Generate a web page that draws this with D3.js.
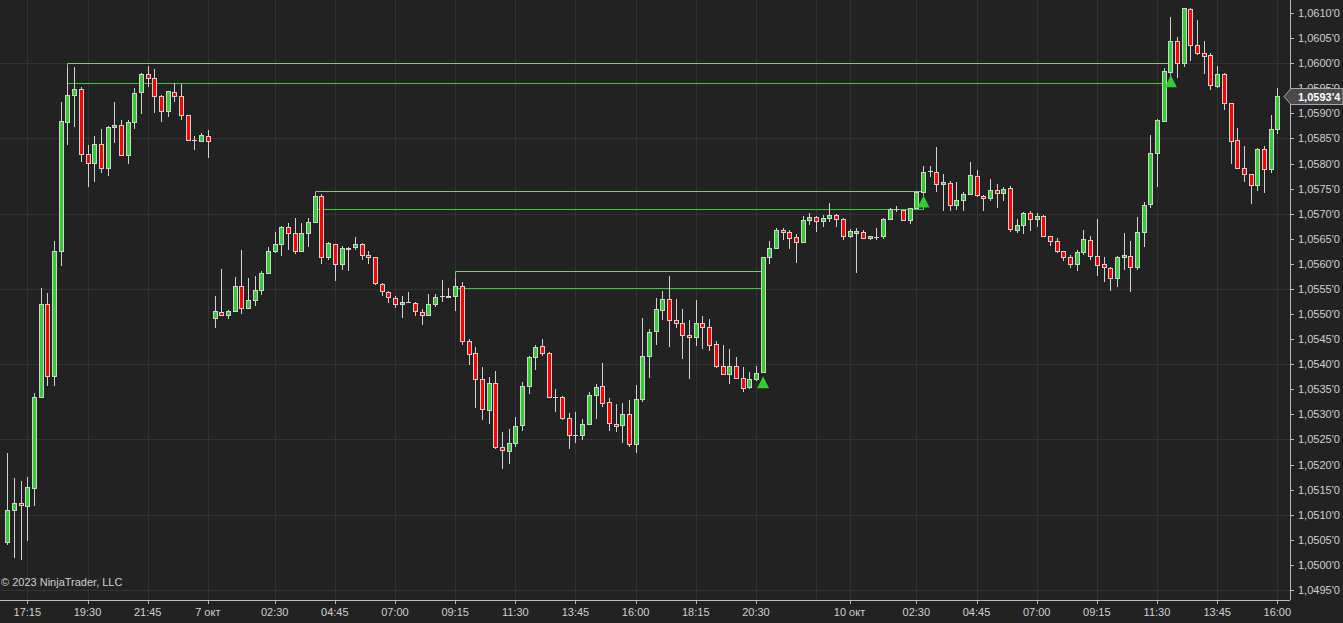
<!DOCTYPE html>
<html>
<head>
<meta charset="utf-8">
<script src="https://cdn.jsdelivr.net/npm/d3@7"></script>
<style>
html,body{margin:0;padding:0;background:#222222;overflow:hidden;}
svg{display:block;}
text{font-family:"Liberation Sans",Arial,sans-serif;}
</style>
</head>
<body>
<svg id="chart" width="1343" height="623"></svg>
<script>
// ---- data (15-minute bars, index-based) ----
const opens = [1.05046,1.05109,1.05123,1.05118,1.05154,1.05334,1.05521,1.05376,1.05625,1.05883,
1.05936,1.05948,1.05818,1.05802,1.05838,1.05792,1.05872,1.05876,1.05816,1.05882,
1.05942,1.05978,1.05970,1.05934,1.05904,1.05942,1.05934,1.05896,1.05846,1.05844,
1.05854,1.05493,1.05505,1.05499,1.05507,1.05555,1.05513,1.05527,1.05547,1.05581,
1.05625,1.05639,1.05673,1.05661,1.05625,1.05661,1.05683,1.05735,1.05613,1.05639,
1.05599,1.05632,1.05633,1.05639,1.05617,1.05613,1.05559,1.05543,1.05531,1.05521,
1.05525,1.05523,1.05505,1.05499,1.05521,1.05535,1.05534,1.05535,1.05555,1.05446,
1.05422,1.05370,1.05308,1.05362,1.05236,1.05228,1.05242,1.05278,1.05356,1.05414,
1.05436,1.05422,1.05334,1.05334,1.05292,1.05259,1.05258,1.05280,1.05338,1.05356,
1.05324,1.05280,1.05278,1.05300,1.05240,1.05330,1.05416,1.05466,1.05509,1.05529,
1.05488,1.05482,1.05458,1.05454,1.05482,1.05474,1.05440,1.05396,1.05380,1.05396,
1.05372,1.05354,1.05370,1.05384,1.05613,1.05631,1.05667,1.05663,1.05653,1.05643,
1.05687,1.05693,1.05685,1.05691,1.05697,1.05689,1.05655,1.05661,1.05663,1.05651,
1.05653,1.05655,1.05689,1.05709,1.05707,1.05687,1.05711,1.05743,1.05786,1.05784,
1.05759,1.05761,1.05717,1.05727,1.05739,1.05775,1.05735,1.05731,1.05747,1.05741,
1.05751,1.05667,1.05677,1.05701,1.05689,1.05695,1.05655,1.05645,1.05625,1.05613,
1.05599,1.05623,1.05647,1.05615,1.05599,1.05591,1.05571,1.05613,1.05615,1.05593,
1.05663,1.05719,1.05820,1.05885,1.05983,1.06044,1.06000,1.06107,1.06036,1.06020,
1.06016,1.05954,1.05978,1.05920,1.05846,1.05792,1.05779,1.05757,1.05828,1.05790,
1.05868];
const highs = [1.05224,1.05173,1.05167,1.05175,1.05343,1.05552,1.05542,1.05646,1.05923,1.05990,
1.05993,1.05953,1.05837,1.05855,1.05869,1.05875,1.05923,1.05886,1.05886,1.05951,
1.05980,1.05994,1.05988,1.05937,1.05945,1.05960,1.05958,1.05897,1.05854,1.05860,
1.05866,1.05535,1.05589,1.05508,1.05573,1.05628,1.05571,1.05575,1.05585,1.05633,
1.05663,1.05675,1.05681,1.05691,1.05681,1.05691,1.05738,1.05739,1.05644,1.05640,
1.05635,1.05634,1.05654,1.05642,1.05626,1.05614,1.05561,1.05545,1.05535,1.05535,
1.05543,1.05525,1.05511,1.05539,1.05539,1.05568,1.05551,1.05570,1.05563,1.05450,
1.05434,1.05394,1.05374,1.05386,1.05264,1.05270,1.05294,1.05364,1.05416,1.05438,
1.05451,1.05424,1.05350,1.05336,1.05302,1.05304,1.05290,1.05344,1.05360,1.05402,
1.05332,1.05320,1.05322,1.05328,1.05358,1.05493,1.05470,1.05531,1.05545,1.05576,
1.05529,1.05511,1.05488,1.05527,1.05497,1.05490,1.05446,1.05438,1.05430,1.05414,
1.05394,1.05384,1.05396,1.05614,1.05646,1.05671,1.05671,1.05667,1.05659,1.05695,
1.05701,1.05695,1.05697,1.05721,1.05699,1.05691,1.05670,1.05671,1.05667,1.05656,
1.05671,1.05691,1.05711,1.05715,1.05708,1.05712,1.05745,1.05795,1.05795,1.05833,
1.05779,1.05765,1.05763,1.05743,1.05804,1.05788,1.05737,1.05769,1.05759,1.05753,
1.05755,1.05689,1.05703,1.05705,1.05701,1.05697,1.05656,1.05651,1.05626,1.05617,
1.05627,1.05667,1.05655,1.05689,1.05613,1.05593,1.05616,1.05661,1.05645,1.05693,
1.05723,1.05857,1.05888,1.05990,1.06092,1.06052,1.06110,1.06109,1.06086,1.06044,
1.06020,1.05994,1.05980,1.05921,1.05870,1.05834,1.05780,1.05830,1.05834,1.05896,
1.05950];
const lows = [1.05040,1.05014,1.05010,1.05048,1.05117,1.05333,1.05357,1.05357,1.05596,1.05837,
1.05873,1.05804,1.05754,1.05764,1.05782,1.05775,1.05841,1.05814,1.05800,1.05869,
1.05898,1.05952,1.05901,1.05883,1.05892,1.05923,1.05887,1.05845,1.05826,1.05843,
1.05812,1.05473,1.05497,1.05490,1.05505,1.05501,1.05511,1.05517,1.05537,1.05580,
1.05622,1.05615,1.05627,1.05619,1.05623,1.05634,1.05682,1.05599,1.05608,1.05566,
1.05588,1.05586,1.05628,1.05607,1.05599,1.05557,1.05535,1.05523,1.05513,1.05493,
1.05523,1.05497,1.05478,1.05497,1.05515,1.05525,1.05531,1.05507,1.05438,1.05398,
1.05313,1.05288,1.05280,1.05232,1.05192,1.05202,1.05236,1.05266,1.05340,1.05388,
1.05416,1.05332,1.05305,1.05288,1.05232,1.05242,1.05248,1.05279,1.05290,1.05314,
1.05266,1.05264,1.05242,1.05236,1.05224,1.05324,1.05372,1.05438,1.05488,1.05435,
1.05473,1.05410,1.05371,1.05436,1.05430,1.05426,1.05392,1.05378,1.05360,1.05370,
1.05344,1.05350,1.05366,1.05382,1.05600,1.05630,1.05648,1.05629,1.05601,1.05641,
1.05677,1.05664,1.05673,1.05683,1.05674,1.05648,1.05651,1.05582,1.05649,1.05648,
1.05648,1.05649,1.05688,1.05703,1.05685,1.05679,1.05710,1.05742,1.05773,1.05743,
1.05706,1.05706,1.05708,1.05706,1.05737,1.05733,1.05705,1.05725,1.05711,1.05725,
1.05664,1.05661,1.05659,1.05665,1.05673,1.05653,1.05635,1.05621,1.05605,1.05592,
1.05585,1.05617,1.05607,1.05575,1.05563,1.05545,1.05553,1.05588,1.05543,1.05588,
1.05633,1.05711,1.05754,1.05883,1.05982,1.05971,1.05993,1.06005,1.06016,1.05978,
1.05946,1.05950,1.05906,1.05800,1.05790,1.05763,1.05719,1.05745,1.05741,1.05782,
1.05858];
const closes = [1.05109,1.05123,1.05119,1.05155,1.05334,1.05521,1.05376,1.05625,1.05884,1.05936,
1.05948,1.05818,1.05802,1.05838,1.05792,1.05872,1.05876,1.05816,1.05882,1.05941,
1.05978,1.05970,1.05934,1.05904,1.05944,1.05934,1.05896,1.05846,1.05846,1.05856,
1.05844,1.05507,1.05499,1.05507,1.05555,1.05513,1.05527,1.05547,1.05581,1.05625,
1.05639,1.05673,1.05661,1.05625,1.05661,1.05683,1.05735,1.05613,1.05641,1.05599,
1.05631,1.05630,1.05639,1.05617,1.05613,1.05561,1.05545,1.05533,1.05521,1.05525,
1.05524,1.05507,1.05499,1.05521,1.05533,1.05535,1.05535,1.05555,1.05446,1.05420,
1.05370,1.05310,1.05362,1.05236,1.05230,1.05242,1.05276,1.05356,1.05414,1.05434,
1.05422,1.05334,1.05334,1.05292,1.05258,1.05259,1.05280,1.05338,1.05354,1.05322,
1.05282,1.05276,1.05300,1.05240,1.05330,1.05416,1.05464,1.05511,1.05529,1.05488,
1.05482,1.05458,1.05454,1.05482,1.05474,1.05438,1.05396,1.05380,1.05396,1.05372,
1.05352,1.05370,1.05382,1.05613,1.05631,1.05667,1.05663,1.05651,1.05643,1.05687,
1.05693,1.05685,1.05691,1.05697,1.05689,1.05655,1.05665,1.05665,1.05651,1.05655,
1.05654,1.05689,1.05709,1.05710,1.05687,1.05711,1.05743,1.05784,1.05786,1.05759,
1.05763,1.05717,1.05727,1.05739,1.05777,1.05737,1.05731,1.05747,1.05741,1.05749,
1.05669,1.05677,1.05701,1.05689,1.05695,1.05655,1.05645,1.05625,1.05613,1.05599,
1.05623,1.05649,1.05615,1.05597,1.05593,1.05571,1.05613,1.05617,1.05593,1.05663,
1.05717,1.05820,1.05886,1.05984,1.06044,1.06001,1.06109,1.06036,1.06020,1.06014,
1.05956,1.05978,1.05920,1.05844,1.05792,1.05779,1.05757,1.05828,1.05790,1.05868,
1.05934];

// x-axis time labels (bar index -> label)
const timeTickIndex = [3,12,21,30,40,49,58,67,76,85,94,103,112,126,136,145,154,163,172,181,190];
const timeTickLabels = ["17:15","19:30","21:45","7 окт","02:30","04:45","07:00","09:15","11:30","13:45","16:00","18:15","20:30","10 окт","02:30","04:45","07:00","09:15","11:30","13:45","16:00"];
const extraGridIndex = [121];

// price axis ticks
const priceTicks = d3.range(0, 24).map(i => +(1.0495 + i * 0.0005).toFixed(4));
const priceGrid = d3.range(0, 8).map(i => +(1.0495 + i * 0.0015).toFixed(4));

// zones (start bar, end bar, top price, line price) and breakout markers
const zoneStart = [9, 46, 67];
const zoneEnd = [174, 137, 113];
const zoneTop = [1.06000, 1.05745, 1.05585];
const zoneLine = [1.05961, 1.05709, 1.05551];
const signalIndex = [174, 137, 113];

const lastPrice = 1.05934;

// ---- drawing ----
const W = 1343, H = 623;
const plotRight = 1290, plotBottom = 600;
const svg = d3.select("#chart");
svg.append("rect").attr("width", W).attr("height", H).attr("fill", "#222222");

const x = d3.scaleLinear().domain([0, 190]).range([7.3, 1277.3]);
const y = d3.scaleLinear().domain([1.0495, 1.0610]).range([590, 13]);
const px = v => Math.round(v) + 0.5;

const fmt = p => {
  const s = p.toFixed(5);
  return s.slice(0, 6).replace(".", ",") + "'" + s.slice(6);
};

// grid
const grid = svg.append("g");
grid.selectAll("line.h").data(priceGrid).join("line")
  .attr("x1", 0).attr("x2", plotRight)
  .attr("y1", d => px(y(d))).attr("y2", d => px(y(d)))
  .attr("stroke", "#333333").attr("stroke-width", 1);
grid.selectAll("line.v").data(timeTickIndex.concat(extraGridIndex)).join("line")
  .attr("x1", d => px(x(d))).attr("x2", d => px(x(d)))
  .attr("y1", 0).attr("y2", plotBottom)
  .attr("stroke", "#333333").attr("stroke-width", 1);

// zones
const zoneData = zoneStart.map((s, k) => ({s, e: zoneEnd[k], top: zoneTop[k], line: zoneLine[k]}));
const zones = svg.append("g");
zones.selectAll("path.box").data(zoneData).join("path")
  .attr("d", z => {
    const x0 = px(x(z.s)), x1 = px(x(z.e));
    const yt = px(y(z.top)), yl = px(y(z.line));
    return `M${x0},${yl}V${yt}H${x1}V${yl}`;
  })
  .attr("fill", "none").attr("stroke", "#7fc77f").attr("stroke-width", 1);
zones.selectAll("line.lvl").data(zoneData).join("line")
  .attr("x1", z => px(x(z.s))).attr("x2", z => px(x(z.e)))
  .attr("y1", z => px(y(z.line))).attr("y2", z => px(y(z.line)))
  .attr("stroke", "#32cd32").attr("stroke-width", 1);

// candles
const bars = d3.range(opens.length).map(i => ({i, o: opens[i], h: highs[i], l: lows[i], c: closes[i]}));
const cg = svg.append("g");
cg.selectAll("line.wick").data(bars).join("line")
  .attr("x1", d => px(x(d.i))).attr("x2", d => px(x(d.i)))
  .attr("y1", d => Math.round(y(d.h))).attr("y2", d => Math.round(y(d.l)))
  .attr("stroke", "#d2d2d2").attr("stroke-width", 1);
cg.selectAll("rect.body").data(bars).join("rect")
  .attr("x", d => Math.round(x(d.i)) - 1.5)
  .attr("width", 4)
  .attr("y", d => Math.round(y(Math.max(d.o, d.c))) + 0.5)
  .attr("height", d => Math.max(0.01, Math.round(y(Math.min(d.o, d.c))) - Math.round(y(Math.max(d.o, d.c)))))
  .attr("fill", d => d.c > d.o ? "#32cd32" : (d.c < d.o ? "#ff0000" : "#d2d2d2"))
  .attr("stroke", "#d2d2d2").attr("stroke-width", 1);

// breakout triangles
svg.append("g").selectAll("path").data(signalIndex).join("path")
  .attr("d", i => {
    const cx = x(i) + 0.5, top = y(lows[i]) + 3;
    return `M${cx},${top}L${cx + 6},${top + 12}L${cx - 6},${top + 12}Z`;
  })
  .attr("fill", "#32cd32");

// right price axis
const axisG = svg.append("g");
axisG.append("line").attr("x1", plotRight + 0.5).attr("x2", plotRight + 0.5).attr("y1", 0).attr("y2", plotBottom)
  .attr("stroke", "#bdbdbd");
axisG.selectAll("line.t").data(priceTicks).join("line")
  .attr("x1", plotRight).attr("x2", plotRight + 4)
  .attr("y1", d => px(y(d))).attr("y2", d => px(y(d)))
  .attr("stroke", "#bdbdbd");
axisG.selectAll("text").data(priceTicks).join("text")
  .attr("x", 1298).attr("y", d => y(d) + 4)
  .attr("fill", "#d0d0d0").attr("font-size", 11)
  .text(d => fmt(d));

// bottom time axis
const xg = svg.append("g");
xg.append("line").attr("x1", 0).attr("x2", plotRight).attr("y1", plotBottom + 0.5).attr("y2", plotBottom + 0.5)
  .attr("stroke", "#bdbdbd");
xg.selectAll("line.t").data(timeTickIndex).join("line")
  .attr("x1", d => px(x(d))).attr("x2", d => px(x(d)))
  .attr("y1", plotBottom).attr("y2", plotBottom + 4)
  .attr("stroke", "#bdbdbd");
xg.selectAll("text").data(timeTickIndex).join("text")
  .attr("x", d => x(d)).attr("y", 616).attr("text-anchor", "middle")
  .attr("fill", "#d0d0d0").attr("font-size", 11)
  .text((d, k) => timeTickLabels[k]);

// last price marker (covers the tick label underneath, as in the original)
const ly = Math.round(y(lastPrice)) + 0.5;
svg.append("path")
  .attr("d", `M1284,${ly}L1291,${ly - 8}H1343V${ly + 8}H1291Z`)
  .attr("fill", "#4a4a4a").attr("stroke", "#a8a8a8");
svg.append("text").attr("x", 1298).attr("y", ly + 4)
  .attr("fill", "#ffffff").attr("font-size", 11).attr("font-weight", "bold")
  .text(fmt(lastPrice));

// copyright
svg.append("text").attr("x", 1).attr("y", 586)
  .attr("fill", "#d0d0d0").attr("font-size", 11)
  .text("© 2023 NinjaTrader, LLC");
</script>
</body>
</html>
